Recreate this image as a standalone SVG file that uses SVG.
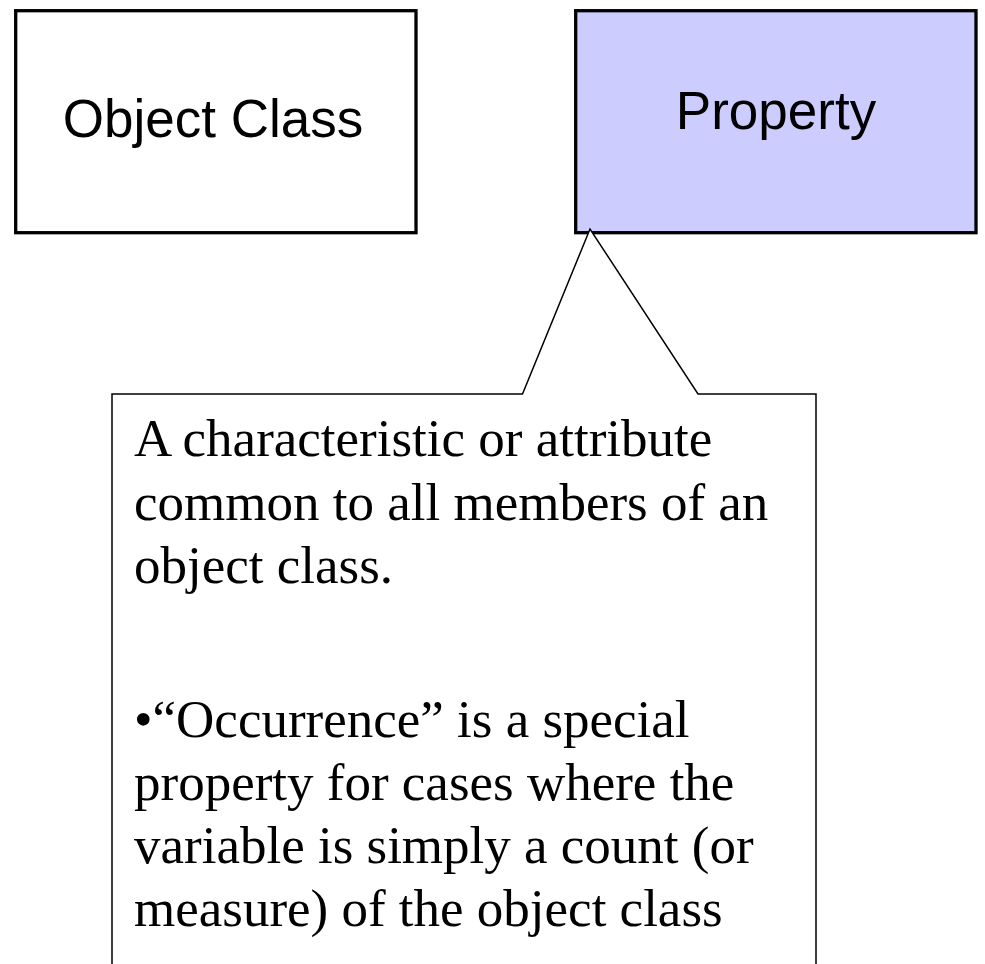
<svg xmlns="http://www.w3.org/2000/svg" width="985" height="964" viewBox="0 0 985 964">
  <style>
    .box { stroke: #000000; stroke-width: 3.3; }
    .label { font-family: "Liberation Sans", Arial, sans-serif; font-size: 53px; fill: #000000; text-anchor: middle; }
    .callout { fill: #FFFFFF; stroke: #000000; stroke-width: 1.5; stroke-linejoin: miter; }
    .note { font-family: "Liberation Serif", "Times New Roman", serif; font-size: 53px; fill: #000000; }
  </style>
  <rect width="985" height="964" fill="#FFFFFF"/>
  <g id="object-class">
    <rect class="box" x="15.7" y="10.7" width="400.3" height="222" fill="#FFFFFF"/>
    <text class="label" x="213" y="137.3">Object Class</text>
  </g>
  <g id="property">
    <rect class="box" x="575.7" y="10.7" width="400.3" height="222" fill="#CCCCFF"/>
    <text class="label" x="776" y="129.3">Property</text>
  </g>
  <g id="connectors">
    <g id="property-note">
      <path class="callout" d="M112,394 H522.5 L590,229 L698,394 H816 V975 H112 Z"/>
      <text class="note" x="134" y="456">A characteristic or attribute</text>
      <text class="note" x="134" y="519.5">common to all members of an</text>
      <text class="note" x="134" y="583">object class.</text>
      <text class="note" x="134" y="736.7">•“Occurrence” is a special</text>
      <text class="note" x="134" y="800">property for cases where the</text>
      <text class="note" x="134" y="863">variable is simply a count (or</text>
      <text class="note" x="134" y="926">measure) of the object class</text>
    </g>
  </g>
</svg>
